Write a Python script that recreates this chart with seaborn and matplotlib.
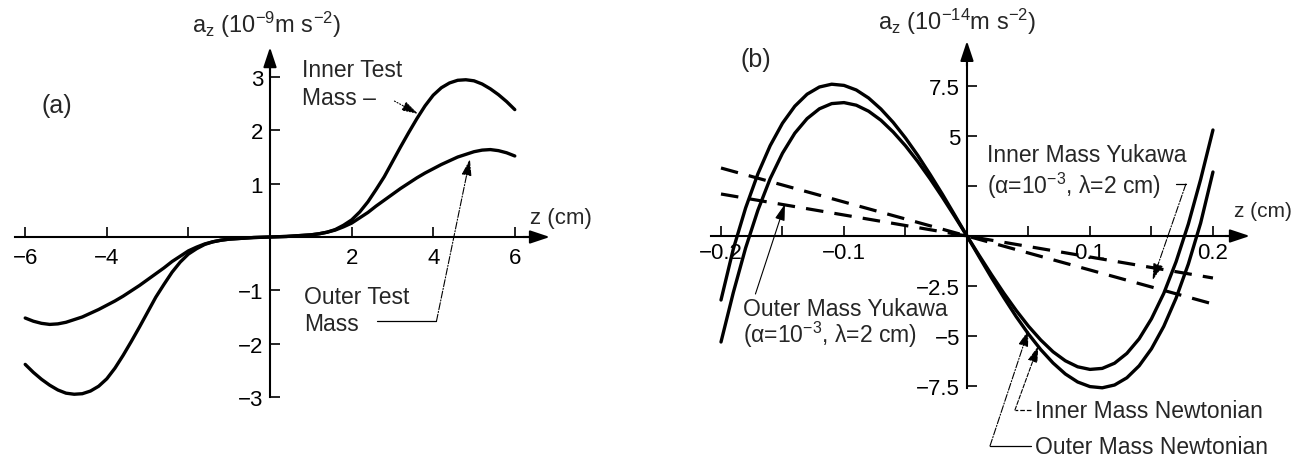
import matplotlib
matplotlib.use("Agg")
import matplotlib.pyplot as plt
import seaborn as sns

sns.set_theme(style="white", context="notebook")
plt.rcParams['font.family'] = ['Liberation Sans', 'DejaVu Sans']
plt.rcParams['mathtext.fontset'] = 'custom'
plt.rcParams['mathtext.rm'] = 'Liberation Sans'
plt.rcParams['mathtext.it'] = 'Liberation Sans:italic'
plt.rcParams['axes.unicode_minus'] = True

# (a) axial acceleration of the test masses, 1e-9 m s^-2
z_a = [-6.0, -5.8, -5.6, -5.4, -5.2, -5.0, -4.8, -4.6, -4.4, -4.2, -4.0, -3.8, -3.6, -3.4, -3.2, -3.0,
       -2.8, -2.6, -2.4, -2.2, -2.0, -1.8, -1.6, -1.4, -1.2, -1.0, -0.8, -0.6, -0.4, -0.2, 0.0,
       0.2, 0.4, 0.6, 0.8, 1.0, 1.2, 1.4, 1.6, 1.8, 2.0, 2.2, 2.4, 2.6, 2.8, 3.0,
       3.2, 3.4, 3.6, 3.8, 4.0, 4.2, 4.4, 4.6, 4.8, 5.0, 5.2, 5.4, 5.6, 5.8, 6.0]
inner_a = [-2.39, -2.54, -2.67, -2.78, -2.87, -2.93, -2.95, -2.94, -2.89, -2.80, -2.66, -2.46, -2.22, -1.96, -1.69, -1.41,
           -1.13, -0.89, -0.66, -0.47, -0.32, -0.22, -0.14, -0.09, -0.06, -0.04, -0.03, -0.02, -0.01, -0.005, 0.0,
           0.005, 0.01, 0.02, 0.03, 0.04, 0.06, 0.09, 0.14, 0.22, 0.32, 0.47, 0.66, 0.89, 1.13, 1.41,
           1.69, 1.96, 2.22, 2.46, 2.66, 2.80, 2.89, 2.94, 2.95, 2.93, 2.87, 2.78, 2.67, 2.54, 2.39]
outer_a = [-1.52, -1.58, -1.62, -1.64, -1.63, -1.60, -1.55, -1.50, -1.43, -1.36, -1.28, -1.20, -1.11, -1.01, -0.91, -0.80,
           -0.69, -0.58, -0.46, -0.36, -0.26, -0.19, -0.13, -0.09, -0.06, -0.04, -0.03, -0.02, -0.01, -0.005, 0.0,
           0.005, 0.01, 0.02, 0.03, 0.04, 0.06, 0.09, 0.13, 0.19, 0.26, 0.36, 0.46, 0.58, 0.69, 0.80,
           0.91, 1.01, 1.11, 1.20, 1.28, 1.36, 1.43, 1.50, 1.55, 1.60, 1.63, 1.64, 1.62, 1.58, 1.52]
a_xticks = [-6, -4, -2, 2, 4, 6]
a_xticklabels = ['\u22126', '\u22124', '', '2', '4', '6']
a_yticks = [-3, -2, -1, 1, 2, 3]
a_yticklabels = ['\u22123', '\u22122', '\u22121', '1', '2', '3']

# (b) 1e-14 m s^-2
z_b = [-0.20, -0.19, -0.18, -0.17, -0.16, -0.15, -0.14, -0.13, -0.12, -0.11, -0.10, -0.09, -0.08, -0.07,
       -0.06, -0.05, -0.04, -0.03, -0.02, -0.01, 0.0, 0.01, 0.02, 0.03, 0.04, 0.05, 0.06, 0.07, 0.08, 0.09,
       0.10, 0.11, 0.12, 0.13, 0.14, 0.15, 0.16, 0.17, 0.18, 0.19, 0.20]
outer_newton = [-3.2, -0.65, 1.40, 3.11, 4.52, 5.64, 6.49, 7.09, 7.45, 7.59, 7.53, 7.30, 6.90, 6.35,
                5.68, 4.90, 4.03, 3.08, 2.09, 1.05, 0.0, -1.05, -2.09, -3.08, -4.03, -4.90, -5.68, -6.35, -6.90, -7.30,
                -7.53, -7.59, -7.45, -7.09, -6.49, -5.64, -4.52, -3.11, -1.40, 0.65, 3.2]
inner_newton = [-5.3, -2.83, -0.60, 1.29, 2.87, 4.14, 5.14, 5.87, 6.36, 6.62, 6.67, 6.54, 6.24, 5.79,
                5.20, 4.51, 3.72, 2.86, 1.94, 0.98, 0.0, -0.98, -1.94, -2.86, -3.72, -4.51, -5.20, -5.79, -6.24, -6.54,
                -6.67, -6.62, -6.36, -5.87, -5.14, -4.14, -2.87, -1.29, 0.60, 2.83, 5.3]
z_yuk = [-0.2, 0.0, 0.2]
inner_yukawa = [3.4, 0.0, -3.4]
outer_yukawa = [2.1, 0.0, -2.1]
b_xticks = [-0.2, -0.15, -0.1, -0.05, 0.05, 0.1, 0.15, 0.2]
b_xticklabels = ['\u22120.2', '', '\u22120.1', '', '', '0.1', '', '0.2']
b_yticks = [-7.5, -5, -2.5, 2.5, 5, 7.5]
b_yticklabels = ['\u22127.5', '\u22125', '\u22122.5', '', '5', '7.5']

W, H = 1294, 464
fig = plt.figure(figsize=(W / 100, H / 100), dpi=100)
ax_a = fig.add_axes([0, 0, 640 / W, 1])
ax_b = fig.add_axes([660 / W, 0, 634 / W, 1])
ax_a.set_xlim(-6.618, 9.069)
ax_a.set_ylim(-4.24, 4.465)
ax_b.set_xlim(-0.2496, 0.2659)
ax_b.set_ylim(-11.35, 11.85)

arrow_kw = dict(arrowstyle='-|>,head_length=0.6,head_width=0.2', color='black', lw=1.5,
                mutation_scale=20, shrinkA=0, shrinkB=0)

for ax in (ax_a, ax_b):
    ax.set_facecolor('none')
    ax.spines['top'].set_visible(False)
    ax.spines['right'].set_visible(False)
    for s in ('left', 'bottom'):
        ax.spines[s].set_position(('data', 0))
        ax.spines[s].set_linewidth(1.5)
        ax.spines[s].set_color('black')
    ax.tick_params(axis='both', direction='in', length=7, width=1.2, labelsize=16,
                   bottom=True, left=True, colors='black')
    ax.tick_params(axis='y', pad=5)
ax_a.tick_params(axis='x', pad=7)
ax_b.tick_params(axis='x', pad=4)

# ---- panel (a)
ax_a.spines['bottom'].set_bounds(-6.25, 6.4)
ax_a.spines['left'].set_bounds(-3, 3.2)
ax_a.annotate('', xy=(6.86, 0), xytext=(6.2, 0), arrowprops=arrow_kw)
ax_a.annotate('', xy=(0, 3.56), xytext=(0, 3.0), arrowprops=arrow_kw)
ax_a.set_xticks(a_xticks)
ax_a.set_xticklabels(a_xticklabels)
ax_a.set_yticks(a_yticks)
ax_a.set_yticklabels(a_yticklabels)

sns.lineplot(x=z_a, y=inner_a, ax=ax_a, color='black', linewidth=2.4, estimator=None, sort=False)
sns.lineplot(x=z_a, y=outer_a, ax=ax_a, color='black', linewidth=2.4, estimator=None, sort=False)

ax_a.text(-5.59, 2.47, '(a)', fontsize=18, va='center', ha='left')
ax_a.text(-1.91, 4.0, r'a$_\mathregular{z}$ (10$^\mathregular{-9}$m s$^\mathregular{-2}$)', fontsize=17,
          va='center', ha='left')
ax_a.text(6.37, 0.36, 'z (cm)', fontsize=16, va='center', ha='left')
ax_a.text(0.78, 3.35, 'Inner Test\nMass \u2013', fontsize=16.5, va='top', ha='left', linespacing=1.25)
ax_a.text(0.83, -0.9, 'Outer Test\nMass', fontsize=16.5, va='top', ha='left', linespacing=1.25)

lead = dict(arrowstyle='-|>,head_length=0.5,head_width=0.15', color='black', lw=0.8,
            mutation_scale=20, shrinkA=0, shrinkB=0)
ax_a.annotate('', xy=(3.63, 2.31), xytext=(3.05, 2.55), arrowprops=dict(lead, linestyle=':'))
ax_a.plot([2.62, 4.08], [-1.58, -1.58], color='black', lw=0.9)
ax_a.annotate('', xy=(4.9, 1.46), xytext=(4.08, -1.58), arrowprops=dict(lead, linestyle='-.'))

# ---- panel (b)
ax_b.spines['bottom'].set_bounds(-0.208, 0.215)
ax_b.spines['left'].set_bounds(-7.6, 9.0)
ax_b.annotate('', xy=(0.23, 0), xytext=(0.21, 0), arrowprops=arrow_kw)
ax_b.annotate('', xy=(0, 9.75), xytext=(0, 8.5), arrowprops=arrow_kw)
ax_b.set_xticks(b_xticks)
ax_b.set_xticklabels(b_xticklabels)
ax_b.set_yticks(b_yticks)
ax_b.set_yticklabels(b_yticklabels)

sns.lineplot(x=z_b, y=outer_newton, ax=ax_b, color='black', linewidth=2.4, estimator=None, sort=False)
sns.lineplot(x=z_b, y=inner_newton, ax=ax_b, color='black', linewidth=2.4, estimator=None, sort=False)
sns.lineplot(x=z_yuk, y=inner_yukawa, ax=ax_b, color='black', linewidth=2.3, estimator=None,
             sort=False, linestyle=(0, (5.5, 3.5)))
sns.lineplot(x=z_yuk, y=outer_yukawa, ax=ax_b, color='black', linewidth=2.3, estimator=None,
             sort=False, linestyle=(0, (5.5, 3.5)))

ax_b.text(-0.184, 8.85, '(b)', fontsize=18, va='center', ha='left')
ax_b.text(-0.072, 10.75, r'a$_\mathregular{z}$ (10$^\mathregular{-14}$m s$^\mathregular{-2}$)', fontsize=17,
          va='center', ha='left')
ax_b.text(0.2175, 1.25, 'z (cm)', fontsize=15, va='center', ha='left')
ax_b.text(0.0163, 4.05, 'Inner Mass Yukawa', fontsize=16.5, va='center', ha='left')
ax_b.text(0.0163, 2.55, '(\u03b1=10$^\\mathregular{\u22123}$, \u03bb=2 cm)', fontsize=16.5, va='center', ha='left')
ax_b.text(-0.182, -3.6, 'Outer Mass Yukawa', fontsize=16.5, va='center', ha='left')
ax_b.text(-0.182, -4.9, '(\u03b1=10$^\\mathregular{\u22123}$, \u03bb=2 cm)', fontsize=16.5, va='center', ha='left')
ax_b.text(0.0553, -8.7, 'Inner Mass Newtonian', fontsize=16.5, va='center', ha='left')
ax_b.text(0.0553, -10.5, 'Outer Mass Newtonian', fontsize=16.5, va='center', ha='left')

ax_b.plot([0.17, 0.178], [2.6, 2.6], color='black', lw=0.9)
ax_b.annotate('', xy=(0.151, -2.2), xytext=(0.178, 2.6), arrowprops=dict(lead, linestyle='-.'))
ax_b.annotate('', xy=(-0.148, 1.6), xytext=(-0.172, -2.9), arrowprops=lead)
ax_b.plot([0.052, 0.039], [-8.7, -8.7], color='black', lw=0.9, linestyle='--')
ax_b.annotate('', xy=(0.058, -5.5), xytext=(0.039, -8.7), arrowprops=dict(lead, linestyle='--'))
ax_b.plot([0.052, 0.0187], [-10.5, -10.5], color='black', lw=0.9)
ax_b.annotate('', xy=(0.050, -4.7), xytext=(0.0187, -10.5), arrowprops=dict(lead, linestyle='-.'))

fig.savefig("out.png", dpi=100, facecolor='white')
